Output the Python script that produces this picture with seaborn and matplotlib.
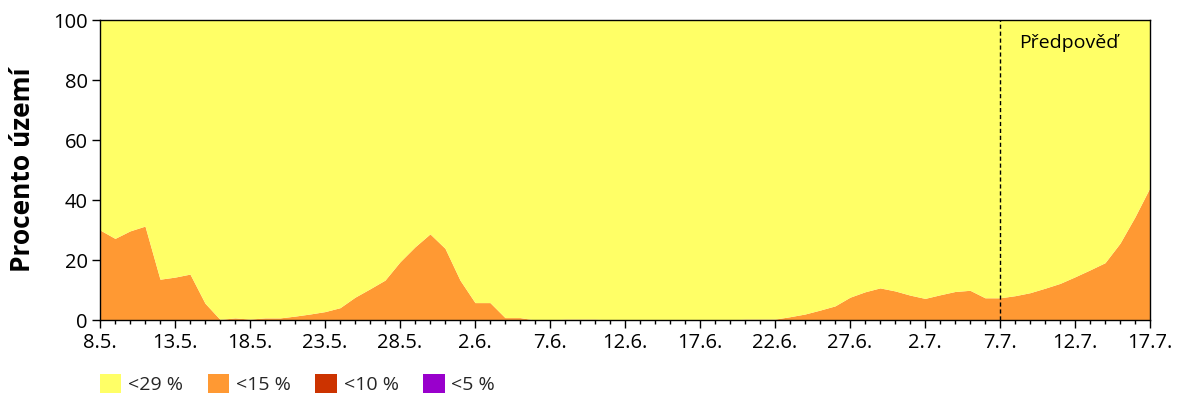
import numpy as np
import matplotlib
matplotlib.use("Agg")
import matplotlib.pyplot as plt
from matplotlib.patches import Patch
from matplotlib.ticker import MultipleLocator
import seaborn as sns

# ---- data ----
tick_labels = ["8.5.", "13.5.", "18.5.", "23.5.", "28.5.", "2.6.", "7.6.", "12.6.",
               "17.6.", "22.6.", "27.6.", "2.7.", "7.7.", "12.7.", "17.7."]
categories = ["<29 %", "<15 %", "<10 %", "<5 %"]
colors = ["#FFFF66", "#FF9933", "#CC3300", "#9900CC"]

below15 = [30, 27.2, 29.7, 31.3, 13.6, 14.3, 15.3, 5.6, 0.2, 0.7,
           0.3, 0.7, 0.7, 1.3, 2.0, 2.8, 4.1, 7.6, 10.4, 13.3,
           19.4, 24.4, 28.7, 23.9, 13.3, 5.8, 5.8, 0.8, 0.8, 0,
           0, 0.3, 0.3, 0.3, 0, 0, 0, 0, 0, 0,
           0, 0, 0, 0.3, 0.3, 0.3, 1.1, 2.0, 3.3, 4.7,
           7.6, 9.4, 10.7, 9.7, 8.3, 7.2, 8.4, 9.5, 9.9, 7.4,
           7.4, 8.1, 9.1, 10.6, 12.2, 14.4, 16.7, 19.1, 25.6, 34.4,
           44.2]
below10 = [0] * len(below15)
below5 = [0] * len(below15)
forecast_start = 60  # index of 7.7.

days = np.arange(len(below15))
below29 = 100 - np.array(below15) - np.array(below10) - np.array(below5)

sns.set_theme(style="ticks")
plt.rcParams["font.family"] = ["Open Sans", "DejaVu Sans"]

fig = plt.figure(figsize=(12, 4), dpi=100)
ax = fig.add_axes([100 / 1200, 80 / 400, 1050 / 1200, 300 / 400])

ax.stackplot(days, below5, below10, below15, below29,
             colors=[colors[3], colors[2], colors[1], colors[0]], linewidth=0)

ax.set_xlim(0, len(below15) - 1)
ax.set_ylim(0, 100)
ax.set_xticks(np.arange(0, len(below15), 5))
ax.set_xticklabels(tick_labels)
ax.xaxis.set_minor_locator(MultipleLocator(1))
ax.set_yticks([0, 20, 40, 60, 80, 100])
ax.tick_params(axis="both", which="major", labelsize=14.5, length=6, width=1,
               color="black", labelcolor="black", direction="out", pad=3)
ax.tick_params(axis="x", which="minor", length=3, width=1, color="black")
for s in ax.spines.values():
    s.set_color("black")
    s.set_linewidth(1)

ax.set_ylabel("Procento území", fontsize=19, fontweight="bold", color="black", labelpad=12)

ax.axvline(forecast_start, color="black", linestyle=(0, (3, 2)), linewidth=1)
ax.text(forecast_start + 1.3, 92.5, "Předpověď", fontsize=14, color="black",
        ha="left", va="center")

handles = [Patch(facecolor=c, edgecolor="none") for c in colors]
fig.legend(handles, categories, loc="lower left", bbox_to_anchor=(90 / 1200, -0.01),
           ncol=4, frameon=False, fontsize=14, handlelength=1.1, handleheight=1.1,
           handletextpad=0.35, columnspacing=1.27, borderaxespad=0.1)

fig.savefig("out.png", dpi=100)
